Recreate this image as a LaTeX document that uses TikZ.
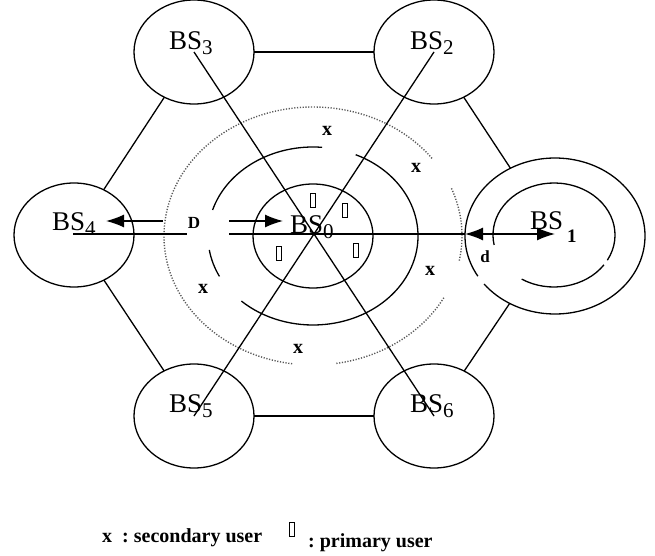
\documentclass[tikz,border=0pt]{standalone}
\usepackage{fontspec}
\setmainfont{Liberation Serif}
\usetikzlibrary{shapes.geometric,arrows.meta}
\newcommand\subs[1]{\raisebox{-5pt}{\fontsize{21}{21}\selectfont #1}}
\newcommand\earc[6]{\draw[#1] (#2) ++(#5:#3 and #4) arc[start angle=#5,end angle=#6,x radius=#3,y radius=#4];}
\begin{document}
\begin{tikzpicture}[x=1pt,y=-1pt,
  bs/.style={ellipse,draw,line width=1.3pt,minimum width=120pt,minimum height=104pt,inner sep=0pt,outer sep=0pt},
  lbl/.style={anchor=base west,inner sep=0pt,font=\fontsize{27}{27}\selectfont},
  su/.style={font=\bfseries\fontsize{20}{20}\selectfont,inner sep=0pt},
  pu/.style={draw,line width=0.9pt,minimum width=4.5pt,minimum height=14pt,inner sep=0pt},
  ln/.style={line width=1.3pt},
  arr/.style={line width=1.4pt,-{Latex[length=18pt,width=13pt]}},
  dbl/.style={line width=1.4pt,{Latex[length=18pt,width=13pt]}-{Latex[length=18pt,width=13pt]}},
  dotarc/.style={black!65,line width=1.4pt,dash pattern=on 1.2pt off 1.6pt},
  midarc/.style={line width=1.3pt},
  legend/.style={anchor=base west,inner sep=0pt,font=\bfseries\fontsize{20}{20}\selectfont},
]
\useasboundingbox (0,0) rectangle (655,556);

% base stations
\node[bs] (BS0) at (313,236) {};
\node[bs] (BS3) at (194,52) {};
\node[bs] (BS2) at (434,52) {};
\node[bs] (BS4) at (74,235) {};
\node[bs] (BS5) at (194,416) {};
\node[bs] (BS6) at (434,416) {};
\node[bs,draw=none,minimum width=180pt,minimum height=156pt] (BS1) at (555,236) {};

% BS1 outer and inner circles
\earc{midarc}{555,236}{90}{78}{-218}{-571}
\earc{midarc}{554,235}{61}{52}{-238}{-325}
\earc{midarc}{554,235}{61}{52}{-331}{-551}

% rings around BS0
\earc{dotarc}{313,236}{149}{129}{-37}{-262}
\earc{dotarc}{313,236}{149}{129}{11}{-22}
\earc{dotarc}{313,236}{149}{129}{81}{28}
\earc{midarc}{313,236}{105}{89}{-85}{-163}
\earc{midarc}{313,236}{105}{89}{-66}{133}
\earc{midarc}{313,236}{105}{89}{-189}{-207}

% hexagon
\draw[ln] (BS3) -- (BS2);
\draw[ln] (BS2) -- (BS1);
\draw[ln] (BS1) -- (BS6);
\draw[ln] (BS6) -- (BS5);
\draw[ln] (BS5) -- (BS4);
\draw[ln] (BS4) -- (BS3);

% diagonals
\draw[ln] (BS3.center) -- (BS6.center);
\draw[ln] (BS2.center) -- (BS5.center);

% horizontal lines
\coordinate (h0) at (73,234);
\coordinate (h1) at (187,234);
\coordinate (h2) at (229,234);
\coordinate (dL) at (465,234);
\coordinate (dR) at (555,234);
\draw[ln] (h0) -- (h1);
\draw[ln] (h2) -- (dL);
\draw[dbl] (dL) -- (dR);

% D arrows
\coordinate (a1) at (163,221);
\coordinate (a1t) at (106,221);
\coordinate (a2) at (229,221);
\coordinate (a2t) at (283,221);
\draw[arr] (a1) -- (a1t);
\draw[arr] (a2) -- (a2t);

% labels
\node[lbl] (L3) at (169,50) {BS\subs{3}};
\node[lbl] (L2) at (410,50) {BS\subs{2}};
\node[lbl] (L4) at (52,230) {BS\subs{4}};
\node[lbl] (L0) at (290,233) {BS\subs{0}};
\node[lbl] (L5) at (169,412) {BS\subs{5}};
\node[lbl] (L6) at (410,412) {BS\subs{6}};
\node[lbl] (L1) at (530,229) {BS};
\node[anchor=base west,inner sep=0pt,font=\bfseries\fontsize{19}{19}\selectfont] (L1s) at (567,242) {1};
\node[font=\bfseries\fontsize{17}{17}\selectfont,inner sep=0pt] (D) at (194,223) {D};
\node[font=\bfseries\fontsize{17}{17}\selectfont,inner sep=0pt] (d) at (485,257) {d};

% secondary users
\node[su] (s1) at (327,131) {x};
\node[su] (s2) at (416,168) {x};
\node[su] (s3) at (430,271) {x};
\node[su] (s4) at (298,349) {x};
\node[su] (s5) at (203,289) {x};

% primary users
\node[pu] (p1) at (313,200) {};
\node[pu] (p2) at (345,210) {};
\node[pu] (p3) at (279,253) {};
\node[pu] (p4) at (356,250) {};

% legend
\node[legend] (leg1) at (102,542) {x\ \ :\ secondary user};
\node[pu] (leg2) at (292,529) {};
\node[legend] (leg3) at (308,547) {:\ primary user};
\end{tikzpicture}
\end{document}
